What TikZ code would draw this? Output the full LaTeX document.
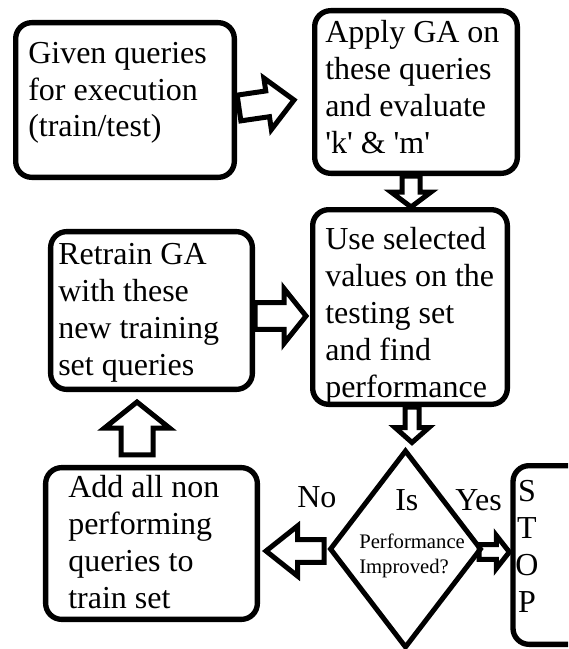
\documentclass[tikz,border=0pt]{standalone}
\usepackage{fontspec}
\setmainfont{Liberation Serif}
\usetikzlibrary{calc,shapes.geometric}

\tikzset{
  box/.style={draw, line width=4pt, rounded corners=12pt, inner sep=0pt},
  % multi-line texts are placed by the baseline of their last line
  boxtext/.style={anchor=base west, align=left, inner sep=0pt,
    font=\fontsize{24}{27.6}\selectfont},
  small/.style={anchor=base west, align=left, inner sep=0pt,
    font=\fontsize{15.5}{18.6}\selectfont},
  decision/.style={draw, shape=diamond, line width=3.75pt, inner sep=0pt},
  fatarrow/.style={draw, line width=3.75pt, line join=miter},
}

% outlined block arrow: start, tip, shaft half width, head half width, head length
\newcommand{\fatarrow}[5]{%
  \path ($(#2)!#5!(#1)$) coordinate (hb);
  \draw[fatarrow] ($(#1)!#3!90:(#2)$) -- ($(hb)!#3!90:(#2)$)
    -- ($(hb)!#4!90:(#2)$) -- (#2) -- ($(hb)!#4!-90:(#2)$)
    -- ($(hb)!#3!-90:(#2)$) -- ($(#1)!#3!-90:(#2)$) -- cycle;
}

\begin{document}
\begin{tikzpicture}[x=0.75pt, y=-0.75pt]
\useasboundingbox (0,0) rectangle (568,649);
\clip (0,0) rectangle (568,649);

% process boxes
\node[box, minimum width=164pt, minimum height=116pt] (b1) at (125,100) {};
\node[box, minimum width=152pt, minimum height=122pt] (b2) at (416,92) {};
\node[box, minimum width=146pt, minimum height=146pt] (b3) at (410,307) {};
\node[box, minimum width=151.3pt, minimum height=118.3pt] (b4) at (151.5,310.5) {};
\node[box, minimum width=158.8pt, minimum height=113.8pt] (b5) at (151.5,543.5) {};
\node[box, minimum width=93pt, minimum height=134pt] (stop) at (575,555) {};
\node[decision, minimum width=114pt, minimum height=148.5pt] (d) at (405.5,549) {};

% box texts
\node[boxtext] (t1) at (28,137) {Given queries\\for execution\\(train/test)};
\node[boxtext] (t2) at (325,153) {Apply GA on\\these queries\\and evaluate\\\textquotesingle k\textquotesingle{} \& \textquotesingle m\textquotesingle};
\node[boxtext] (t3) at (325,397) {Use selected\\values on the\\testing set\\and find\\performance};
\node[boxtext] (t4) at (58,375) {Retrain GA\\with these\\new training\\set queries};
\node[boxtext] (t5) at (68,608) {Add all non\\performing\\queries to\\train set};
\node[boxtext, anchor=base, align=center] (t6) at (527,612) {S\\T\\O\\P};

% decision texts
\node[boxtext] (no) at (297,507) {No};
\node[boxtext] (is) at (395,510) {Is};
\node[boxtext] (yes) at (455,510) {Yes};
\node[small] (q) at (359,573) {Performance\\Improved?};

% arrow end points
\coordinate (a1s) at ($(b1.east)+(2,8)$);
\coordinate (a1e) at ($(b2.west)+(-18,8)$);
\coordinate (a2s) at ($(b2.south)+(-5,0)$);
\coordinate (a2e) at ($(b3.north)+(1,0)$);
\coordinate (a3s) at ($(b4.east)+(0,5.5)$);
\coordinate (a3e) at ($(b3.west)+(-4,9)$);
\coordinate (a4s) at ($(b5.north)+(-14.5,-10)$);
\coordinate (a4e) at ($(b4.south)+(-14.5,10)$);
\coordinate (a5s) at ($(b3.south)+(2,0)$);
\coordinate (a5e) at ($(d.north)+(6.5,-5)$);
\coordinate (a6s) at ($(d.west)+(-3,2)$);
\coordinate (a6e) at ($(b5.east)+(6,7.5)$);
\coordinate (a7s) at ($(d.east)+(-5,3)$);
\coordinate (a7e) at ($(stop.west)+(-1,-3)$);

% connectors
\fatarrow{a1s}{a1e}{9.75pt}{19.5pt}{20pt}
\fatarrow{a2s}{a2e}{6.75pt}{15pt}{11.25pt}
\fatarrow{a3s}{a3e}{10pt}{20.6pt}{16.5pt}
\fatarrow{a4s}{a4e}{12pt}{24.4pt}{19.5pt}
\fatarrow{a5s}{a5e}{5.25pt}{12.75pt}{11.25pt}
\fatarrow{a6s}{a6e}{8.6pt}{18.75pt}{23.6pt}
\fatarrow{a7s}{a7e}{5.6pt}{12.4pt}{9.75pt}
\end{tikzpicture}
\end{document}
